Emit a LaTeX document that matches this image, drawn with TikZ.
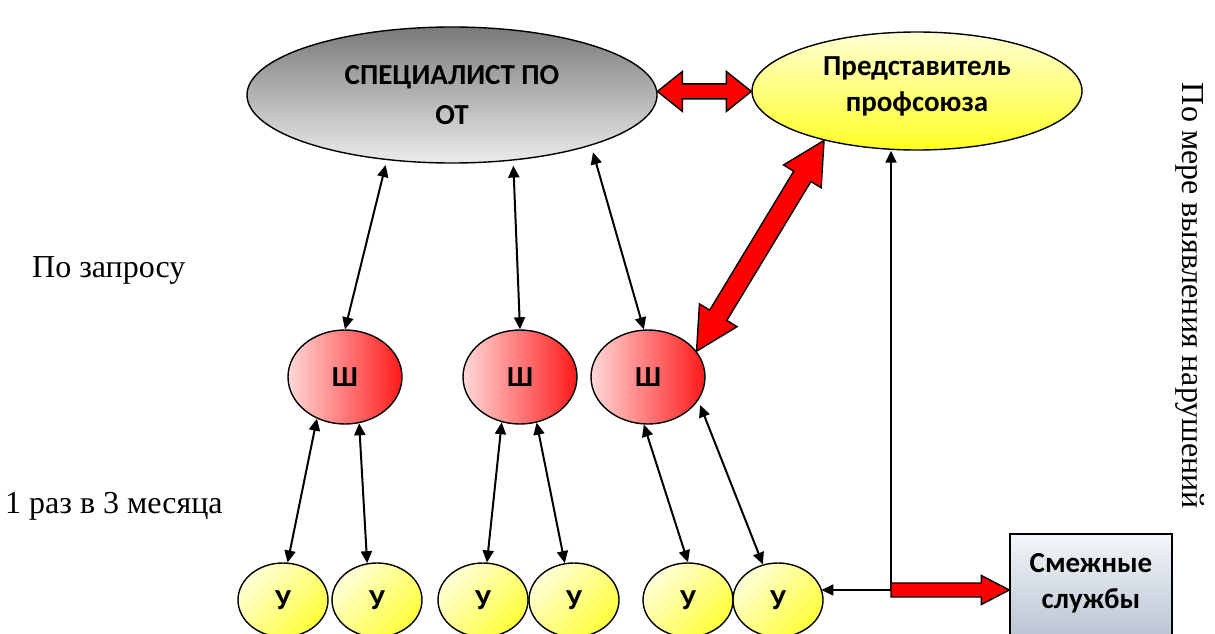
\documentclass[tikz,border=0pt]{standalone}
\usepackage{fontspec}
\setmainfont{Liberation Serif}
\newfontfamily\boxfont{Carlito}
\usetikzlibrary{shapes.geometric,arrows.meta,calc}

\definecolor{grayTop}{HTML}{7A7A7A}
\definecolor{grayBot}{HTML}{ECECEC}
\definecolor{yelTop}{HTML}{FFFFD4}
\definecolor{yelBot}{HTML}{FFFF24}
\definecolor{pinkL}{HTML}{FFD8D8}
\definecolor{redR}{HTML}{FF1A1A}
\definecolor{uLight}{HTML}{FFFFD8}
\definecolor{uDark}{HTML}{FFFF38}
\definecolor{boxTop}{HTML}{F4F6F9}
\definecolor{boxBot}{HTML}{A9B6C8}

% wide outlined red arrow with two heads: from, to, shaft half width, head half width, head length
\newcommand\dblfat[5]{%
  \path ($(#1)!#5!(#2)$) coordinate (faA) ($(#2)!#5!(#1)$) coordinate (faB);
  \draw[fatarrow] (#1) -- ($(faA)!#4!90:(#2)$) -- ($(faA)!#3!90:(#2)$)
    -- ($(faB)!#3!90:(#2)$) -- ($(faB)!#4!90:(#2)$) -- (#2)
    -- ($(faB)!#4!-90:(#2)$) -- ($(faB)!#3!-90:(#2)$)
    -- ($(faA)!#3!-90:(#2)$) -- ($(faA)!#4!-90:(#2)$) -- cycle;}
% the same with one head, at the second point
\newcommand\onefat[5]{%
  \path ($(#2)!#5!(#1)$) coordinate (faB);
  \draw[fatarrow] ($(#1)!#3!90:(#2)$) -- ($(faB)!#3!90:(#2)$)
    -- ($(faB)!#4!90:(#2)$) -- (#2) -- ($(faB)!#4!-90:(#2)$)
    -- ($(faB)!#3!-90:(#2)$) -- ($(#1)!#3!-90:(#2)$) -- cycle;}

\begin{document}
\begin{tikzpicture}[x=1pt,y=-1pt,
  every node/.style={inner sep=0pt},
  outl/.style={draw=black, line width=1.4pt},
  boldtext/.style={font=\boxfont\bfseries\fontsize{29}{36}\selectfont, align=center},
  sidetext/.style={font=\fontsize{32}{38}\selectfont},
  chief/.style={ellipse, outl, boldtext, font=\boxfont\bfseries\fontsize{29}{40}\selectfont,
    minimum width=410pt, minimum height=136pt, top color=grayTop, bottom color=grayBot},
  union/.style={ellipse, outl, boldtext, text depth=14pt,
    minimum width=330pt, minimum height=118pt, top color=yelTop, bottom color=yelBot},
  shop/.style={ellipse, outl, boldtext, minimum width=114pt, minimum height=94pt,
    left color=pinkL, right color=redR},
  unit/.style={ellipse, outl, boldtext, minimum width=90pt, minimum height=74pt,
    top color=uLight, bottom color=uDark, shading angle=45},
  service/.style={rectangle, outl, minimum width=162pt, minimum height=132pt,
    top color=boxTop, bottom color=boxBot},
  link/.style={line width=2pt,
    {Triangle[length=12pt,width=11pt]}-{Triangle[length=12pt,width=11pt]}},
  oneway/.style={line width=2pt, -{Triangle[length=12pt,width=11pt]}},
  fatarrow/.style={fill=red, draw=black, line width=1.4pt, line join=miter}
]
\useasboundingbox (0,0) rectangle (1215,634);
\clip (0,0) rectangle (1215,634);

% main participants
\node[chief] (spec) at (452,95) {СПЕЦИАЛИСТ ПО\\ОТ};
\node[union] (rep) at (917,91) {Представитель\\профсоюза};

% workshop level
\node[shop] (sh1) at (345,377) {Ш};
\node[shop] (sh2) at (520,377) {Ш};
\node[shop] (sh3) at (648,377) {Ш};

% section level
\node[unit] (u1) at (283,600) {У};
\node[unit] (u2) at (377,600) {У};
\node[unit] (u3) at (483,600) {У};
\node[unit] (u4) at (574,600) {У};
\node[unit] (u5) at (688,600) {У};
\node[unit] (u6) at (778,600) {У};

% related services
\node[service] (smz) at (1091,600) {};
\node[boldtext] (smztext) at (1091,583) {Смежные\\службы};

% side captions
\node[sidetext, anchor=base west] (req) at (32,277) {По запросу};
\node[sidetext, anchor=base west] (quart) at (5,513) {1 раз в 3 месяца};
\node[sidetext, rotate=-90] (viol) at (1190,296) {По мере выявления нарушений};

% specialist <-> workshops
\draw[link, shorten >=5pt] (sh1.north) -- (spec.225);
\draw[link, shorten >=5pt] (sh2.north) -- (spec.313);
\draw[link, shorten >=7pt] (sh3.95) -- (spec.340);

% workshops <-> sections
\draw[link] (sh1.236) -- (u1.83);
\draw[link] (sh1.287) -- (u2.105);
\draw[link] (sh2.248) -- (u3.84);
\draw[link] (sh2.290) -- (u4.104);
\draw[link] (sh3.265) -- (u5.north);
\draw[link, shorten <=5pt] (sh3.335) -- (u6.113);

% union representative line
\coordinate (jn) at (891,590);
\draw[oneway] (jn) -- (jn |- rep.south);
\draw[oneway] (jn) -- (u6.15 |- jn);
\coordinate (smzin) at (jn -| smz.west);
\onefat{jn}{smzin}{7pt}{14.5pt}{28pt}

% specialist <-> representative <-> workshop
\coordinate (hl) at (spec.1.4);
\coordinate (hr) at (hl -| rep.west);
\dblfat{hl}{hr}{7.5pt}{20pt}{25pt}
\dblfat{sh3.28}{rep.208}{10pt}{22pt}{42pt}
\end{tikzpicture}
\end{document}
